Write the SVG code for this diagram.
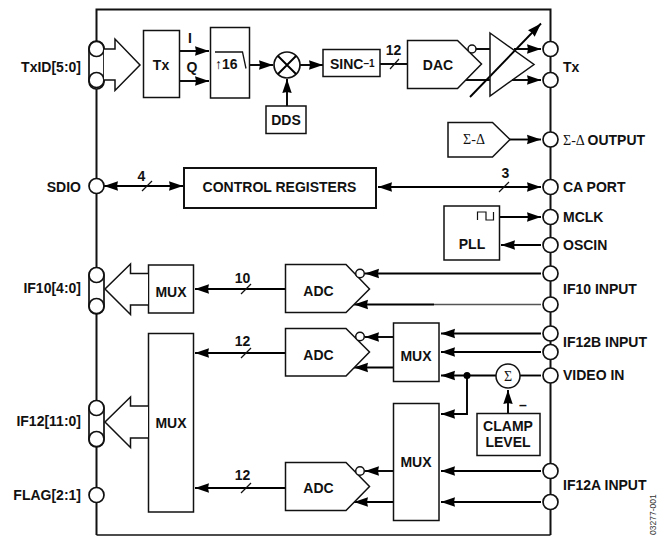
<svg xmlns="http://www.w3.org/2000/svg" width="661" height="536" viewBox="0 0 661 536">
<defs>
<marker id="ah" markerUnits="userSpaceOnUse" markerWidth="15" markerHeight="11" refX="14" refY="5.500" orient="auto-start-reverse"><path d="M0,0.800L14,5.500L0,10.200L1,5.500Z" fill="#000"/></marker>
</defs>
<style>
text{font-family:"Liberation Sans",Arial,sans-serif;font-weight:bold;font-size:14px;fill:#111}
.m{text-anchor:middle}.e{text-anchor:end}
.b{fill:#fff;stroke:#111;stroke-width:1.5}
.c{fill:#fff;stroke:#111;stroke-width:1.7}
.w{fill:none;stroke:#000;stroke-width:1.9}
.a{fill:none;stroke:#000;stroke-width:1.9;marker-end:url(#ah)}
.s{fill:none;stroke:#111;stroke-width:1.2}
.g{font-family:"Liberation Serif","Times New Roman",serif;font-weight:normal}
</style>
<g id="frame"><path d="M96.500,535V9.500H550.500V535" fill="none" stroke="#111" stroke-width="2"/><path d="M96.500,535H550.500" fill="none" stroke="#111" stroke-width="1.300"/></g>

<g id="connectors">
<path class="a" d="M180,51H209"/><path class="a" d="M180,81H209"/>
<path class="a" d="M250,65H273"/><path class="a" d="M300,65H323"/>
<path class="a" d="M287,106V79"/>
<path class="w" d="M380,64H407"/><path class="s" d="M390,69L399,59"/>
<path class="w" d="M476,49H490"/><path class="w" d="M466,80H490"/>
<path class="a" d="M514,49H541"/><path class="a" d="M512,80H541"/>
<path class="a" d="M470,97L541,23.500"/>
<path class="a" d="M510,139.500H541"/>
<path class="w" d="M104,186H183" marker-start="url(#ah)" marker-end="url(#ah)"/>
<path class="s" d="M142,191L152,181"/>
<path class="w" d="M378,187H541" marker-start="url(#ah)" marker-end="url(#ah)"/>
<path class="s" d="M499,192L509,182"/>
<path class="a" d="M500,217H541"/>
<path class="a" d="M541,245H501"/>
<path class="a" d="M541,273.500H365"/>
<path class="a" d="M434,304.500H354"/><path d="M434,304.500H541" fill="none" stroke="#555" stroke-width="1.300"/>
<path class="a" d="M285,289H195"/><path class="s" d="M241,294L251,284"/>
<path class="a" d="M285,353H195"/><path class="s" d="M241,358L251,348"/>
<path class="a" d="M285,488H195"/><path class="s" d="M241,493L251,483"/>
<path class="a" d="M393.500,337H365"/><path class="a" d="M393.500,367.500H354"/>
<path class="a" d="M393.500,471H365"/><path class="a" d="M393.500,502H354"/>
<path class="a" d="M541,333.500H441"/><path class="a" d="M541,352H441"/>
<path class="a" d="M496,375.500H441"/><path class="w" d="M520,375.500H541"/>
<path class="a" d="M467,375.500V414H441"/>
<circle cx="467" cy="375.500" r="3.500" fill="#000"/>
<path class="a" d="M508,413V390"/>
<path class="a" d="M541,471H441"/><path class="a" d="M541,502H441"/>
</g>

<g id="txid"><rect class="c" x="89" y="41" width="15" height="48" rx="7.500"/><circle class="c" cx="96.500" cy="49" r="7.500"/><circle class="c" cx="96.500" cy="80" r="7.500"/>
<path class="b" d="M104,49H115V39L140,65L115,90.500V80H104"/><text class="e" x="81" y="71.500">TxID[5:0]</text></g>
<g id="tx-block"><rect class="b" x="143.500" y="30.500" width="36" height="67"/><text class="m" x="161" y="70">Tx</text><text class="m" x="190" y="43">I</text><text class="m" x="192" y="72">Q</text></g>
<g id="interp"><rect class="b" x="210.500" y="27.500" width="39" height="70.500"/><path fill="none" stroke="#111" stroke-width="1.300" d="M215,52H242.500L246,68.500"/><text x="215" y="69">↑16</text></g>
<g id="mixer"><circle class="c" cx="287" cy="65" r="13"/><path class="w" d="M278,56L296,74M296,56L278,74"/></g>
<g id="dds"><rect class="b" x="266" y="106" width="40" height="27.500"/><text class="m" x="286" y="125">DDS</text></g>
<g id="sinc"><rect class="b" x="323" y="49.500" width="57" height="27"/><text x="330" y="69">SINC<tspan font-size="10" dy="-2">–1</tspan></text><text class="m" x="393.500" y="55">12</text></g>
<g id="dac"><path class="b" d="M407.500,40.500H457.500L481.500,64L457.500,88.500H407.500Z"/><circle class="b" cx="472" cy="49" r="4"/><text class="m" x="438" y="70">DAC</text></g>
<g id="amp"><path d="M490,33L534,64.500L490,96Z" fill="none" stroke="#111" stroke-width="1.500"/></g>
<g id="tx-out"><circle class="c" cx="550.500" cy="49" r="7.500"/><circle class="c" cx="550.500" cy="80" r="7.500"/><text x="563" y="72">Tx</text></g>
<g id="sd"><path class="b" d="M448,122.500H492.500L510,139.500L492.500,157H448Z"/><text class="m g" x="474" y="144">Σ-Δ</text></g>
<g id="sd-out"><circle class="c" cx="550.500" cy="139.500" r="7.500"/><text x="563" y="145"><tspan class="g">Σ-Δ </tspan>OUTPUT</text></g>
<g id="sdio"><circle class="c" cx="96.500" cy="186" r="7.500"/><text class="e" x="81" y="192">SDIO</text><text class="m" x="141.500" y="181">4</text></g>
<g id="control"><rect x="184" y="168" width="192" height="40" fill="#fff" stroke="#111" stroke-width="2"/><text class="m" x="279.500" y="192">CONTROL REGISTERS</text></g>
<g id="ca"><circle class="c" cx="550.500" cy="187" r="7.500"/><text x="563" y="192">CA PORT</text><text class="m" x="505.500" y="178">3</text></g>
<g id="pll"><rect class="b" x="444" y="206" width="55.500" height="54"/><path fill="none" stroke="#111" stroke-width="1.200" d="M477.500,220V212H486V220H493.500V212"/><text class="m" x="472" y="249">PLL</text></g>
<g id="mclk"><circle class="c" cx="550.500" cy="217" r="7.500"/><text x="563" y="222">MCLK</text></g>
<g id="oscin"><circle class="c" cx="550.500" cy="245" r="7.500"/><text x="563" y="250">OSCIN</text></g>
<g id="if10in"><circle class="c" cx="550.500" cy="273.500" r="7.500"/><circle class="c" cx="550.500" cy="304.500" r="7.500"/><text x="563" y="294">IF10 INPUT</text></g>
<g id="adc1"><path class="b" d="M285.500,264.500H346L369.500,289L346,312.500H285.500Z"/><circle class="b" cx="360" cy="273.500" r="4.300"/><text class="m" x="318.500" y="296">ADC</text><text class="m" x="242.500" y="283">10</text></g>
<g id="mux1"><rect class="b" x="148.500" y="265" width="45" height="48"/><text class="m" x="171" y="297">MUX</text></g>
<g id="if10out"><rect class="c" x="89" y="268" width="15" height="46" rx="7.500"/><circle class="c" cx="96.500" cy="275" r="7.500"/><circle class="c" cx="96.500" cy="306" r="7.500"/><path class="b" d="M148,273.500H130.500V264L105,289L130.500,314.500V305H148"/><text class="e" x="81" y="293">IF10[4:0]</text></g>
<g id="mux2"><rect class="b" x="148.500" y="333.500" width="45" height="178.500"/><text class="m" x="171" y="428">MUX</text></g>
<g id="if12out"><rect class="c" x="89" y="401" width="15" height="46" rx="7.500"/><circle class="c" cx="96.500" cy="408" r="7.500"/><circle class="c" cx="96.500" cy="439" r="7.500"/><path class="b" d="M148,406H130.500V397L105,422L130.500,447.500V438H148"/><text class="e" x="81" y="426">IF12[11:0]</text></g>
<g id="flag"><circle class="c" cx="96.500" cy="495" r="7.500"/><text class="e" x="81" y="500">FLAG[2:1]</text></g>
<g id="adc2"><path class="b" d="M285.500,328.500H346L369.500,352L346,376H285.500Z"/><circle class="b" cx="360" cy="336.500" r="4.300"/><text class="m" x="318.500" y="360">ADC</text><text class="m" x="242.500" y="346">12</text></g>
<g id="adc3"><path class="b" d="M285.500,462.500H346L369.500,486.500L346,510.500H285.500Z"/><circle class="b" cx="360" cy="471" r="4.300"/><text class="m" x="318.500" y="492.500">ADC</text><text class="m" x="242.500" y="480">12</text></g>
<g id="mux3"><rect class="b" x="393.500" y="323" width="45.500" height="58.500"/><text class="m" x="416" y="361">MUX</text></g>
<g id="mux4"><rect class="b" x="393.500" y="403.500" width="45.500" height="117"/><text class="m" x="416" y="467">MUX</text></g>
<g id="sum"><circle class="b" cx="508" cy="376" r="12"/><text class="m g" x="508" y="381">Σ</text><text class="m" x="523" y="410">–</text></g>
<g id="clamp"><rect class="b" x="477" y="413.500" width="63" height="42"/><text class="m" x="508" y="431">CLAMP</text><text class="m" x="508" y="447">LEVEL</text></g>
<g id="if12b"><circle class="c" cx="550.500" cy="333.500" r="7.500"/><circle class="c" cx="550.500" cy="352" r="7.500"/><text x="563" y="347">IF12B INPUT</text></g>
<g id="video"><circle class="c" cx="550.500" cy="375.500" r="7.500"/><text x="563" y="380">VIDEO IN</text></g>
<g id="if12a"><circle class="c" cx="550.500" cy="471" r="7.500"/><circle class="c" cx="550.500" cy="502" r="7.500"/><text x="563" y="490">IF12A INPUT</text></g>
<text transform="translate(656,535) rotate(-90)" style="font-size:8.500px;font-weight:normal;fill:#333">03277-001</text>
</svg>
